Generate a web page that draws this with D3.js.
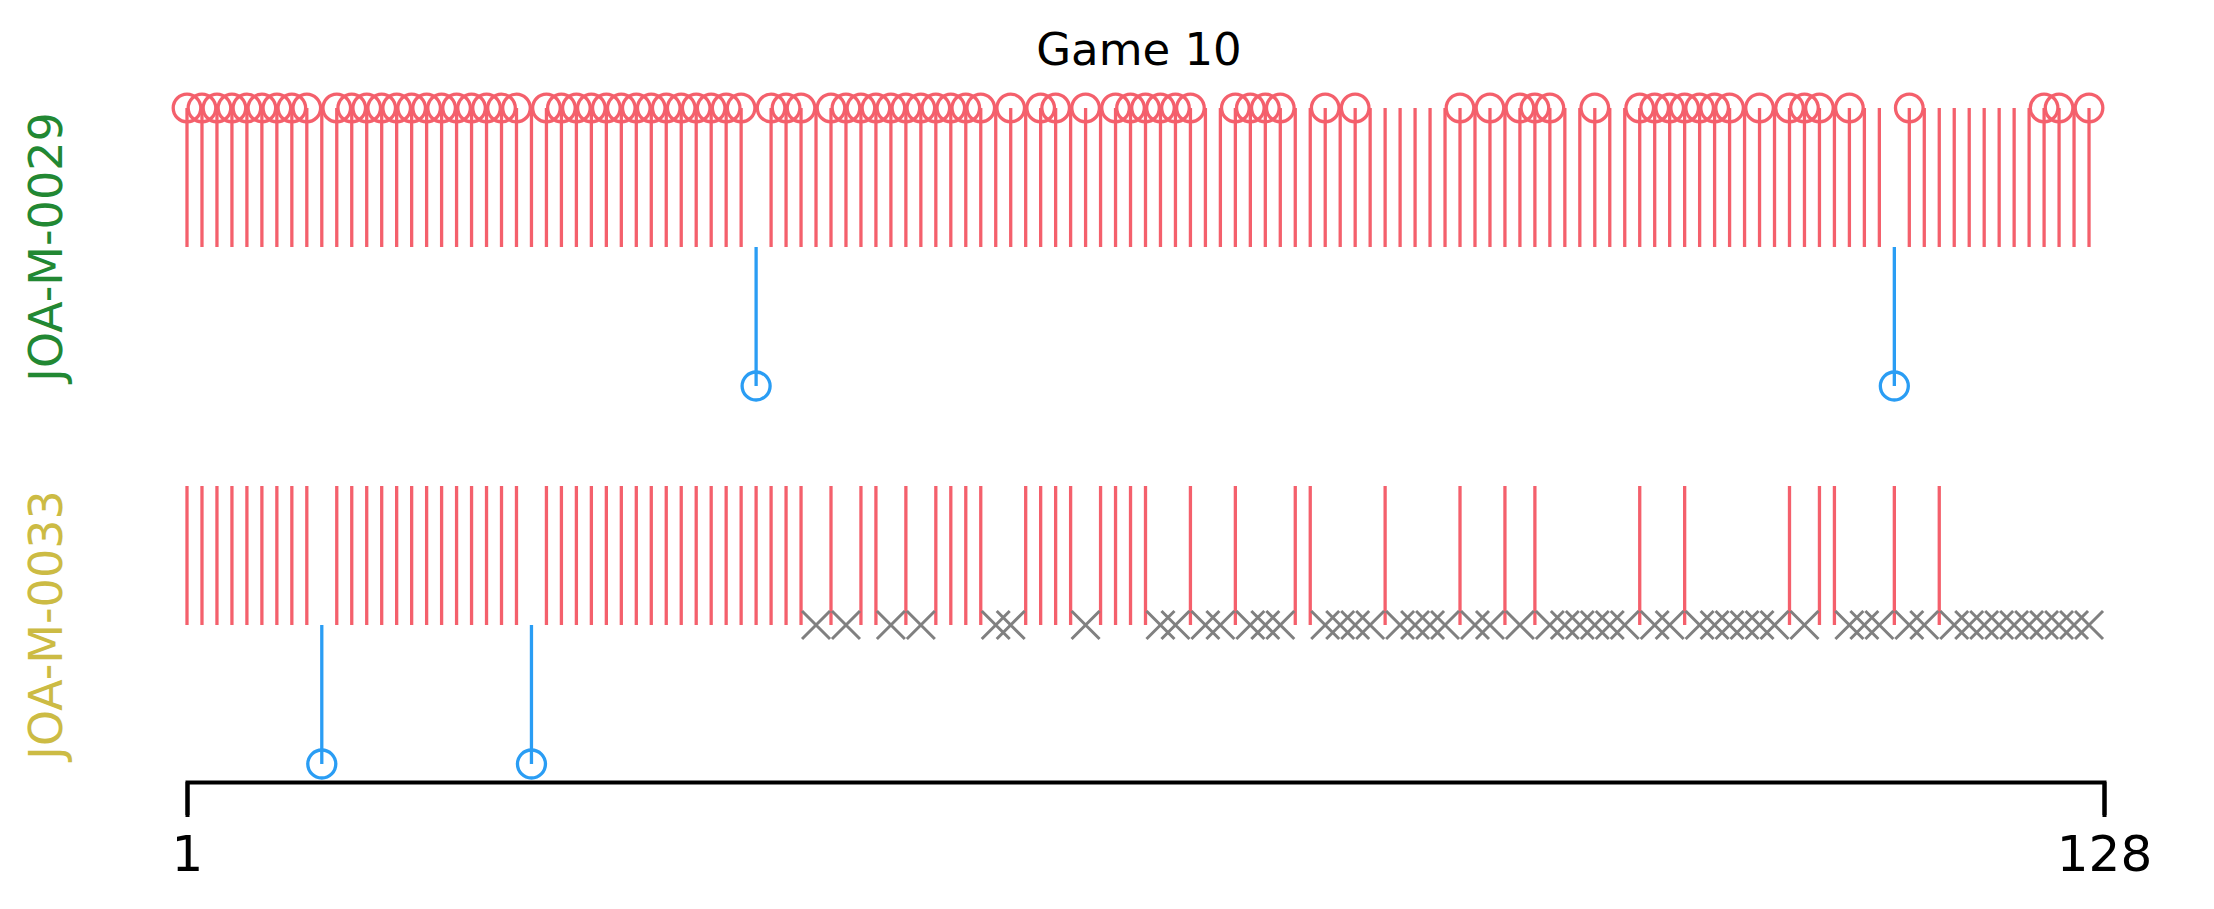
<!DOCTYPE html>
<html>
<head>
<meta charset="utf-8">
<script src="https://cdn.jsdelivr.net/npm/d3@7"></script>
<style>
  html, body { margin: 0; padding: 0; background: #ffffff; }
  svg { display: block; }
</style>
</head>
<body>
<svg id="chart" width="2214" height="909"></svg>
<script>
// ---------------- DATA ----------------
const title = "Game 10";
const players = ["JOA-M-0029", "JOA-M-0033"];
const tickLabels = ["1", "128"];
const tickValues = [0, 128];

// Player 1 (top row): rounds with red choice and a circle marker
const p1RedCircle = [1,2,3,4,5,6,7,8,9,11,12,13,14,15,16,17,18,19,20,21,22,23,
  25,26,27,28,29,30,31,32,33,34,35,36,37,38,40,41,42,44,45,46,47,48,49,50,51,52,53,54,
  56,58,59,61,63,64,65,66,67,68,71,72,73,74,77,79,86,88,90,91,92,95,
  98,99,100,101,102,103,104,106,108,109,110,112,116,125,126,128];
// Player 1: red choice without circle marker
const p1RedPlain = [10,24,43,55,57,60,62,69,70,75,76,78,80,81,82,83,84,85,87,89,93,94,96,97,
  105,107,111,113,114,117,118,119,120,121,122,123,124,127];
// Player 1: blue choice
const p1Blue = [39, 115];

// Player 2 (bottom row)
const p2Red = [1,2,3,4,5,6,7,8,9,11,12,13,14,15,16,17,18,19,20,21,22,23,
  25,26,27,28,29,30,31,32,33,34,35,36,37,38,39,40,41,42,44,46,47,49,51,52,53,54,
  57,58,59,60,62,63,64,65,68,71,75,76,81,86,89,91,98,101,108,110,111,115,118];
const p2Blue = [10, 24];
const p2Miss = [43,45,48,50,55,56,61,66,67,69,70,72,73,74,77,78,79,80,82,83,84,85,87,88,90,
  92,93,94,95,96,97,99,100,102,103,104,105,106,107,109,112,113,114,116,117,
  119,120,121,122,123,124,125,126,127,128];

// ---------------- STYLE ----------------
const RED = "#f4606c", BLUE = "#2a9df4", GREY = "#808080";
const labelColors = ["#228833", "#ccbb44"];
const LW = 3.3;

const svg = d3.select("#chart");
svg.append("rect").attr("width", 2214).attr("height", 909).attr("fill", "#fff");

const x = d3.scaleLinear().domain([0, 128]).range([187, 2104]);
const xr = r => x(r - 1);
const yTop = d3.scaleLinear().domain([-1, 1]).range([386, 108]);
const yBot = d3.scaleLinear().domain([-1, 1]).range([764, 486]);

// ---- top row ----
const gTop = svg.append("g");
gTop.selectAll("line.red").data(p1RedCircle.concat(p1RedPlain)).join("line")
  .attr("x1", d => xr(d)).attr("x2", d => xr(d))
  .attr("y1", yTop(0)).attr("y2", yTop(1))
  .attr("stroke", RED).attr("stroke-width", LW);
gTop.selectAll("circle.red").data(p1RedCircle).join("circle")
  .attr("cx", d => xr(d)).attr("cy", yTop(1)).attr("r", 13.8)
  .attr("fill", "none").attr("stroke", RED).attr("stroke-width", LW);
gTop.selectAll("line.blue").data(p1Blue).join("line")
  .attr("x1", d => xr(d)).attr("x2", d => xr(d))
  .attr("y1", yTop(0)).attr("y2", yTop(-1))
  .attr("stroke", BLUE).attr("stroke-width", LW);
gTop.selectAll("circle.blue").data(p1Blue).join("circle")
  .attr("cx", d => xr(d)).attr("cy", yTop(-1)).attr("r", 14)
  .attr("fill", "none").attr("stroke", BLUE).attr("stroke-width", LW);

// ---- bottom row ----
const gBot = svg.append("g");
gBot.selectAll("line.red").data(p2Red).join("line")
  .attr("x1", d => xr(d)).attr("x2", d => xr(d))
  .attr("y1", yBot(0)).attr("y2", yBot(1))
  .attr("stroke", RED).attr("stroke-width", LW);
gBot.selectAll("line.blue").data(p2Blue).join("line")
  .attr("x1", d => xr(d)).attr("x2", d => xr(d))
  .attr("y1", yBot(0)).attr("y2", yBot(-1))
  .attr("stroke", BLUE).attr("stroke-width", LW);
gBot.selectAll("circle.blue").data(p2Blue).join("circle")
  .attr("cx", d => xr(d)).attr("cy", yBot(-1)).attr("r", 14)
  .attr("fill", "none").attr("stroke", BLUE).attr("stroke-width", LW);
const xSym = d3.symbol(d3.symbolTimes, 513);
gBot.selectAll("path.miss").data(p2Miss).join("path")
  .attr("d", xSym)
  .attr("transform", d => `translate(${xr(d)},${yBot(0)})`)
  .attr("fill", "none").attr("stroke", GREY).attr("stroke-width", 3);

// ---- axis ----
const axis = d3.axisBottom(x).tickValues(tickValues)
  .tickFormat((d, i) => tickLabels[i])
  .tickSizeInner(33).tickSizeOuter(33);
const gAx = svg.append("g").attr("transform", "translate(0,782)").call(axis);
gAx.select(".domain").attr("stroke", "#000").attr("stroke-width", 4)
  .attr("stroke-linecap", "square").attr("fill", "none");
gAx.selectAll(".tick line").attr("stroke", "#000").attr("stroke-width", 4);
gAx.selectAll(".tick text")
  .attr("y", 89).attr("dy", 0)
  .attr("font-family", "DejaVu Sans").attr("font-size", 50).attr("fill", "#000");

// ---- title ----
svg.append("text").attr("x", 1139).attr("y", 64.5).attr("text-anchor", "middle")
  .attr("font-family", "DejaVu Sans").attr("font-size", 45).attr("fill", "#000")
  .text(title);

// ---- player labels ----
const labelCenters = [yTop(0), yBot(0)];
players.forEach((p, i) => {
  svg.append("text")
    .attr("transform", `translate(62,${labelCenters[i]}) rotate(-90)`)
    .attr("text-anchor", "middle")
    .attr("font-family", "DejaVu Sans").attr("font-size", 46)
    .attr("fill", labelColors[i])
    .text(p);
});
</script>
</body>
</html>
